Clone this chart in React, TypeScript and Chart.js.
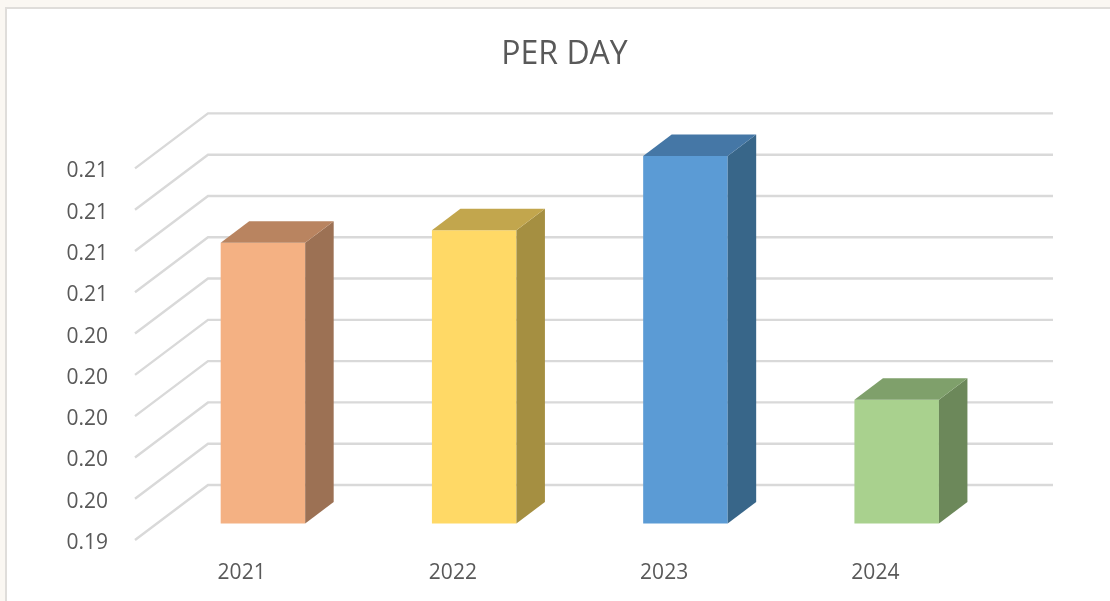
import React, { useEffect, useRef } from "react";
import { Chart, registerables } from "chart.js";

Chart.register(...registerables);

const categories = ["2021", "2022", "2023", "2024"];
const perDay = [0.2076, 0.2082, 0.2118, 0.2];
const frontColors = ["#F4B183", "#FFD966", "#5B9BD5", "#A9D18E"];
const sideColors = ["#9C7154", "#A58F41", "#386689", "#6C885A"];
const topColors = ["#B98460", "#C2A64D", "#4577A6", "#7FA06B"];
const axisMin = 0.194;
const axisMax = 0.212;
const axisStep = 0.002;

const FONT = "'Open Sans', sans-serif";
const TEXT = "#595959";
const GRID = "#D9D9D9";

const WALL_DX = 73;
const WALL_DY = -55;
const BAR_SHIFT_X = 22.3;
const BAR_SHIFT_Y = -16.5;
const BAR_DX = 28.5;
const BAR_DY = -21.5;

function poly(ctx: CanvasRenderingContext2D, pts: number[][], fill: string) {
  ctx.beginPath();
  pts.forEach((p, i) => (i ? ctx.lineTo(p[0], p[1]) : ctx.moveTo(p[0], p[1])));
  ctx.closePath();
  ctx.fillStyle = fill;
  ctx.fill();
}

const depthPlugin = {
  id: "depth",
  beforeDatasetsDraw(chart: any) {
    const { ctx, chartArea, scales } = chart;
    ctx.save();
    ctx.strokeStyle = GRID;
    ctx.lineWidth = 2.4;
    scales.y.ticks.forEach((t: any) => {
      const y = scales.y.getPixelForValue(t.value);
      ctx.beginPath();
      ctx.moveTo(chartArea.left, y);
      ctx.lineTo(chartArea.left + WALL_DX, y + WALL_DY);
      ctx.lineTo(chartArea.right + WALL_DX, y + WALL_DY);
      ctx.stroke();
    });
    ctx.restore();
    ctx.save();
    ctx.translate(BAR_SHIFT_X, BAR_SHIFT_Y);
  },
  afterDatasetsDraw(chart: any) {
    const { ctx } = chart;
    chart.getDatasetMeta(0).data.forEach((bar: any, i: number) => {
      const p = bar.getProps(["x", "y", "base", "width"], true);
      const l = p.x - p.width / 2;
      const r = p.x + p.width / 2;
      poly(ctx, [[r, p.y], [r + BAR_DX, p.y + BAR_DY], [r + BAR_DX, p.base + BAR_DY], [r, p.base]], sideColors[i]);
      poly(ctx, [[l, p.y], [l + BAR_DX, p.y + BAR_DY], [r + BAR_DX, p.y + BAR_DY], [r, p.y]], topColors[i]);
    });
    ctx.restore();
  },
};

export default function App() {
  const ref = useRef<HTMLCanvasElement>(null);
  useEffect(() => {
    const chart = new Chart(ref.current as HTMLCanvasElement, {
      type: "bar",
      data: {
        labels: categories,
        datasets: [
          {
            label: "PER DAY",
            data: perDay,
            base: axisMin,
            backgroundColor: frontColors,
            borderWidth: 0,
            barPercentage: 0.4,
            categoryPercentage: 1,
            clip: false,
          } as any,
        ],
      },
      options: {
        responsive: false,
        animation: false,
        layout: { padding: { left: 19, right: 0, top: 0, bottom: 0 } },
        plugins: {
          legend: { display: false },
          tooltip: { enabled: false },
          title: {
            display: true,
            text: "PER DAY",
            color: TEXT,
            font: { family: FONT, size: 32, weight: "normal" },
            padding: { top: 36, bottom: 94 },
          },
        },
        scales: {
          x: {
            grid: { display: false, drawTicks: false },
            border: { display: false },
            ticks: { color: TEXT, font: { family: FONT, size: 21 }, padding: 20, labelOffset: 1, maxRotation: 0 },
            afterFit: (s: any) => { s.height = 61; },
          },
          y: {
            min: axisMin,
            max: axisMax,
            grid: { display: false, drawTicks: false },
            border: { display: false },
            ticks: {
              stepSize: axisStep,
              color: TEXT,
              font: { family: FONT, size: 21 },
              padding: 27,
              labelOffset: 3,
              callback: (v: any) => Number(v).toFixed(2),
            },
            afterFit: (s: any) => { s.width = 116; },
          },
          spacer: {
            position: "right",
            grid: { display: false, drawTicks: false },
            border: { display: false },
            ticks: { display: false },
            afterFit: (s: any) => { s.width = 130; },
          },
        },
      } as any,
      plugins: [depthPlugin],
    });
    return () => chart.destroy();
  }, []);

  return (
    <div style={{ position: "fixed", left: 0, top: 0, width: 1110, height: 601, overflow: "hidden", background: "#FAF7F2" }}>
      <div style={{ position: "absolute", left: 5, top: 7, width: 1200, height: 700, background: "#fff", border: "2px solid #DFDDDA" }} />
      <canvas ref={ref} width={1110} height={601} style={{ position: "absolute", left: 0, top: 0, display: "block" }} />
    </div>
  );
}
